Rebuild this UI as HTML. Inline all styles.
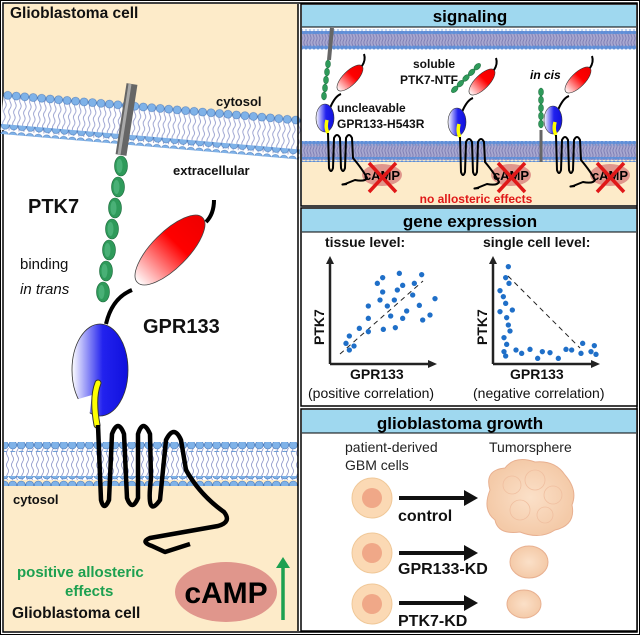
<!DOCTYPE html>
<html><head><meta charset="utf-8"><style>
html,body{margin:0;padding:0;background:#fff}
svg{display:block;font-family:"Liberation Sans",sans-serif}
</style></head><body>
<svg width="640" height="635" viewBox="0 0 640 635" xmlns="http://www.w3.org/2000/svg">
<defs>
<pattern id="tails" width="5" height="36" patternUnits="userSpaceOnUse">
<path d="M2.5,0 q2,3 0,6 q-2,3 0,6 q2,3 0,6 q-2,3 0,6 q2,3 0,6 q-2,3 0,6" fill="none" stroke="#8a93c8" stroke-width="0.8"/>
</pattern>
<pattern id="heads" width="8.5" height="10" patternUnits="userSpaceOnUse">
<circle cx="4.25" cy="5" r="4" fill="#7fb2e8" stroke="#4a78b8" stroke-width="0.6"/>
</pattern>
<pattern id="stails" width="3" height="18" patternUnits="userSpaceOnUse">
<path d="M1.5,0 q1.2,2 0,4.5 q-1.2,2 0,4.5 q1.2,2 0,4.5 q-1.2,2 0,4.5" fill="none" stroke="#7878b0" stroke-width="0.8"/>
</pattern>
<pattern id="sheads" width="4" height="5" patternUnits="userSpaceOnUse">
<circle cx="2" cy="2.5" r="2" fill="#5f8fd8"/>
</pattern>
<linearGradient id="red" x1="0" y1="0" x2="1" y2="0"><stop offset="0" stop-color="#fff"/><stop offset="0.6" stop-color="#f00"/><stop offset="1" stop-color="#e00"/></linearGradient>
<linearGradient id="blue" x1="0" y1="0" x2="1" y2="0"><stop offset="0" stop-color="#fff"/><stop offset="0.55" stop-color="#2222ee"/><stop offset="1" stop-color="#1010dd"/></linearGradient>
<radialGradient id="tum" cx="0.5" cy="0.5" r="0.5"><stop offset="0" stop-color="#fbe0c8"/><stop offset="1" stop-color="#f4caa8"/></radialGradient>
<g id="mini">
<path d="M5,-10 Q10,-22 16,-24" fill="none" stroke="#000" stroke-width="2"/>
<ellipse cx="0" cy="0" rx="9" ry="14" fill="url(#blue)" stroke="#333" stroke-width="0.6"/>
<path d="M2,2 q-2,8 1,13" stroke="#ff0" stroke-width="3.5" fill="none"/>
<ellipse cx="0" cy="0" rx="17" ry="7" transform="translate(25,-40) rotate(-45)" fill="url(#red)" stroke="#333" stroke-width="0.6"/>
<path d="M37,-52 q4,-6 2,-12" fill="none" stroke="#000" stroke-width="2"/>
<path d="M3,15 L4,50 Q6,56 8,50 L9,20 Q12,14 15,20 L16,50 Q18,56 20,50 L21,20 Q24,14 27,20 L28,40 Q38,52 42,60 Q40,64 30,62 L20,66 Q14,67 22,66" fill="none" stroke="#000" stroke-width="2"/>
</g>
<g id="bead"><ellipse rx="6.5" ry="10" fill="#2e9a5a" stroke="#1d6a3c" stroke-width="0.6"/><ellipse rx="3" ry="7" cx="-1.5" fill="#5cc088" opacity="0.6"/></g>
<g id="sbead"><ellipse rx="2.5" ry="4" fill="#2e9a5a" stroke="#1d6a3c" stroke-width="0.5"/></g>
</defs>

<rect x="0.5" y="0.5" width="639" height="634" fill="#fff" stroke="#000" stroke-width="1"/>
<rect x="3" y="3" width="634" height="629" fill="none" stroke="#000" stroke-width="1.5"/>

<!-- LEFT PANEL -->
<rect x="4" y="4" width="294" height="627" fill="#fdebc9"/>
<path d="M4,100 L298,125 L298,480 L4,480 Z" fill="#fff"/>
<rect x="4" y="466" width="294" height="165" fill="#fdebc9"/>
<g transform="translate(4,90) rotate(4.9)">
<rect x="0" y="4" width="300" height="36" fill="#fff"/>
<rect x="0" y="4" width="300" height="36" fill="url(#tails)"/>
<rect x="0" y="0" width="300" height="10" fill="url(#heads)"/>
<rect x="0" y="34" width="300" height="10" fill="url(#heads)"/>
</g>
<rect x="4" y="448" width="294" height="32" fill="#fff"/>
<rect x="4" y="448" width="294" height="32" fill="url(#tails)"/>
<rect x="4" y="442" width="294" height="10" fill="url(#heads)"/>
<rect x="4" y="476" width="294" height="10" fill="url(#heads)"/>
<line x1="298" y1="4" x2="298" y2="631" stroke="#000" stroke-width="1.5"/>

<line x1="132" y1="84" x2="121" y2="155" stroke="#666" stroke-width="11"/>
<line x1="130" y1="84" x2="119" y2="155" stroke="#aaa" stroke-width="3"/>
<use href="#bead" x="121" y="166"/><use href="#bead" x="118" y="187"/><use href="#bead" x="115" y="208"/>
<use href="#bead" x="112" y="229"/><use href="#bead" x="109" y="250"/><use href="#bead" x="106" y="271"/><use href="#bead" x="103" y="292"/>
<path d="M106,324 Q112,298 132,290" fill="none" stroke="#000" stroke-width="4"/>
<ellipse cx="0" cy="0" rx="46" ry="18" transform="translate(170,250) rotate(-45)" fill="url(#red)" stroke="#444" stroke-width="0.8"/>
<path d="M206,222 Q214,214 214,200" fill="none" stroke="#000" stroke-width="4"/>
<ellipse cx="100" cy="370" rx="28" ry="46" fill="url(#blue)" stroke="#333" stroke-width="0.8"/>
<path d="M75,400 Q78,420 88,426 L92,395 Z" fill="#fff"/>
<path d="M98,383 q-6,15 -1,42" stroke="#333" stroke-width="7" fill="none" stroke-linecap="round"/>
<path d="M98,383 q-6,15 -1,42" stroke="#ff0" stroke-width="5" fill="none" stroke-linecap="round"/>
<path d="M98,425 L101,500 Q104,512 109,500 L112,434 Q118,418 124,434 L127,498 Q132,512 138,498 L138,434 Q143,418 150,434 L151,478 Q146,520 160,500 L166,440 Q174,424 181,440 L186,470 Q200,495 224,512 Q232,522 218,526 L150,538 Q140,542 152,546 L165,552 L190,544" fill="none" stroke="#000" stroke-width="4.5" stroke-linejoin="round"/>

<g font-weight="bold" fill="#111">
<text x="10" y="18" font-size="15.5">Glioblastoma cell</text>
<text x="216" y="106" font-size="13">cytosol</text>
<text x="173" y="175" font-size="13">extracellular</text>
<text x="28" y="213" font-size="20">PTK7</text>
<text x="143" y="333" font-size="20">GPR133</text>
<text x="13" y="504" font-size="13">cytosol</text>
<text x="12" y="618" font-size="15.5">Glioblastoma cell</text>
</g>
<text x="20" y="269" font-size="15" fill="#111">binding</text>
<text x="20" y="294" font-size="15" font-style="italic" fill="#111">in trans</text>
<g font-weight="bold" fill="#1da050" font-size="15">
<text x="17" y="577">positive allosteric</text>
<text x="65" y="596">effects</text>
</g>
<ellipse cx="226" cy="592" rx="51" ry="30" fill="#e0968c"/>
<text x="226" y="603" font-size="30" font-weight="bold" text-anchor="middle">cAMP</text>
<line x1="283" y1="620" x2="283" y2="567" stroke="#1da050" stroke-width="3.5"/>
<path d="M276,568 L283,557 L290,568 Z" fill="#1da050"/>

<!-- SIGNALING -->
<rect x="301" y="4" width="336" height="202" fill="#fff" stroke="#000" stroke-width="1.5"/>
<rect x="302" y="160" width="334" height="45" fill="#fdebc9"/>
<rect x="302" y="5" width="334" height="22" fill="#9fd8ef"/>
<line x1="302" y1="27" x2="636" y2="27" stroke="#000"/>
<text x="470" y="22" font-size="17" font-weight="bold" text-anchor="middle">signaling</text>
<g>
<rect x="302" y="31" width="334" height="17" fill="#a8a8d0"/>
<rect x="302" y="31" width="334" height="17" fill="url(#stails)"/>
<rect x="302" y="29" width="334" height="5" fill="url(#sheads)"/>
<rect x="302" y="45" width="334" height="5" fill="url(#sheads)"/>
<rect x="302" y="143" width="334" height="17" fill="#a8a8d0"/>
<rect x="302" y="143" width="334" height="17" fill="url(#stails)"/>
<rect x="302" y="141" width="334" height="5" fill="url(#sheads)"/>
<rect x="302" y="157" width="334" height="5" fill="url(#sheads)"/>
</g>
<g font-weight="bold" font-size="13" text-anchor="middle">
<ellipse cx="382" cy="175" rx="20" ry="11" fill="#e0968c"/><text x="382" y="180">cAMP</text>
<ellipse cx="511" cy="175" rx="20" ry="11" fill="#e0968c"/><text x="511" y="180">cAMP</text>
<ellipse cx="610" cy="175" rx="20" ry="11" fill="#e0968c"/><text x="610" y="180">cAMP</text>
</g>
<g stroke="#e01818" stroke-width="3.5">
<path d="M369,163 L396,192 M396,163 L369,192"/>
<path d="M498,163 L525,192 M525,163 L498,192"/>
<path d="M597,163 L624,192 M624,163 L597,192"/>
</g>
<line x1="332" y1="28" x2="329" y2="60" stroke="#666" stroke-width="4"/>
<use href="#sbead" x="328" y="64"/><use href="#sbead" x="327" y="72"/><use href="#sbead" x="326" y="80"/><use href="#sbead" x="325" y="88"/><use href="#sbead" x="324" y="96"/>
<use href="#mini" x="325" y="118"/>
<g transform="translate(466,78) rotate(45)"><use href="#sbead" x="0" y="-16"/><use href="#sbead" x="0" y="-8"/><use href="#sbead" x="0" y="0"/><use href="#sbead" x="0" y="8"/><use href="#sbead" x="0" y="16"/></g>
<use href="#mini" x="457" y="122"/>
<line x1="541" y1="130" x2="541" y2="162" stroke="#666" stroke-width="3"/>
<use href="#sbead" x="541" y="92"/><use href="#sbead" x="541" y="100"/><use href="#sbead" x="541" y="108"/><use href="#sbead" x="541" y="116"/><use href="#sbead" x="541" y="124"/>
<use href="#mini" x="553" y="120"/>
<g font-weight="bold" font-size="12" fill="#111">
<text x="413" y="68">soluble</text>
<text x="400" y="84">PTK7-NTF</text>
<text x="337" y="112">uncleavable</text>
<text x="337" y="128">GPR133-H543R</text>
</g>
<text x="530" y="79" font-size="12" font-weight="bold" font-style="italic">in cis</text>
<text x="476" y="203" font-size="12" font-weight="bold" fill="#e01818" text-anchor="middle">no allosteric effects</text>

<!-- GENE EXPRESSION -->
<rect x="301" y="208" width="336" height="198" fill="#fff" stroke="#000" stroke-width="1.5"/>
<rect x="302" y="209" width="334" height="23" fill="#9fd8ef"/>
<line x1="302" y1="232" x2="636" y2="232" stroke="#000"/>
<text x="470" y="227" font-size="17" font-weight="bold" text-anchor="middle">gene expression</text>
<g font-weight="bold" font-size="14" fill="#111">
<text x="325" y="247">tissue level:</text>
<text x="483" y="247">single cell level:</text>
<text x="350" y="379">GPR133</text>
<text x="510" y="379">GPR133</text>
<text x="324" y="345" transform="rotate(-90 324 345)">PTK7</text>
<text x="487" y="345" transform="rotate(-90 487 345)">PTK7</text>
</g>
<g font-size="14" fill="#111">
<text x="308" y="398">(positive correlation)</text>
<text x="473" y="398">(negative correlation)</text>
</g>
<g stroke="#222" stroke-width="2.5" fill="none">
<path d="M330,364 L330,262 M330,364 L430,364"/>
<path d="M493,364 L493,262 M493,364 L593,364"/>
</g>
<path d="M326,264 L330,256 L334,264 Z M428,360 L437,364 L428,368 Z M489,264 L493,256 L497,264 Z M591,360 L600,364 L591,368 Z" fill="#222"/>
<line x1="340" y1="354" x2="423" y2="281" stroke="#222" stroke-dasharray="5,4" stroke-width="1"/>
<line x1="508" y1="276" x2="580" y2="348" stroke="#222" stroke-dasharray="5,4" stroke-width="1"/>
<g fill="#1f6fc8" transform="translate(300,200) scale(0.33333)">
<circle cx="138" cy="430" r="8"/><circle cx="148" cy="408" r="8"/><circle cx="148" cy="450" r="8"/><circle cx="162" cy="438" r="8"/><circle cx="178" cy="385" r="8"/><circle cx="205" cy="318" r="8"/><circle cx="205" cy="355" r="8"/><circle cx="205" cy="395" r="8"/><circle cx="232" cy="250" r="8"/><circle cx="248" cy="233" r="8"/><circle cx="248" cy="276" r="8"/><circle cx="240" cy="300" r="8"/><circle cx="250" cy="388" r="8"/><circle cx="262" cy="318" r="8"/><circle cx="272" cy="348" r="8"/><circle cx="283" cy="300" r="8"/><circle cx="286" cy="383" r="8"/><circle cx="292" cy="270" r="8"/><circle cx="298" cy="220" r="8"/><circle cx="308" cy="256" r="8"/><circle cx="308" cy="355" r="8"/><circle cx="320" cy="333" r="8"/><circle cx="338" cy="285" r="8"/><circle cx="343" cy="250" r="8"/><circle cx="358" cy="316" r="8"/><circle cx="365" cy="224" r="8"/><circle cx="368" cy="360" r="8"/><circle cx="390" cy="345" r="8"/><circle cx="405" cy="296" r="8"/>
<circle cx="625" cy="200" r="8"/><circle cx="617" cy="233" r="8"/><circle cx="627" cy="250" r="8"/><circle cx="600" cy="272" r="8"/><circle cx="610" cy="290" r="8"/><circle cx="617" cy="310" r="8"/><circle cx="600" cy="335" r="8"/><circle cx="637" cy="330" r="8"/><circle cx="620" cy="353" r="8"/><circle cx="625" cy="375" r="8"/><circle cx="630" cy="393" r="8"/><circle cx="612" cy="413" r="8"/><circle cx="620" cy="433" r="8"/><circle cx="612" cy="455" r="8"/><circle cx="617" cy="468" r="8"/><circle cx="648" cy="450" r="8"/><circle cx="665" cy="460" r="8"/><circle cx="690" cy="448" r="8"/><circle cx="713" cy="475" r="8"/><circle cx="727" cy="455" r="8"/><circle cx="750" cy="458" r="8"/><circle cx="775" cy="475" r="8"/><circle cx="798" cy="448" r="8"/><circle cx="815" cy="450" r="8"/><circle cx="843" cy="460" r="8"/><circle cx="848" cy="430" r="8"/><circle cx="873" cy="455" r="8"/><circle cx="883" cy="437" r="8"/><circle cx="888" cy="463" r="8"/>
</g>

<!-- GROWTH -->
<rect x="301" y="409" width="336" height="222" fill="#fff" stroke="#000" stroke-width="1.5"/>
<rect x="302" y="410" width="334" height="23" fill="#9fd8ef"/>
<line x1="302" y1="433" x2="636" y2="433" stroke="#000"/>
<text x="460" y="429" font-size="17" font-weight="bold" text-anchor="middle">glioblastoma growth</text>
<g font-size="14" fill="#222">
<text x="345" y="452">patient-derived</text>
<text x="345" y="470">GBM cells</text>
<text x="489" y="452">Tumorsphere</text>
</g>
<g>
<circle cx="372" cy="498" r="20" fill="#fbd9b4" stroke="#f0c898"/><circle cx="372" cy="498" r="10" fill="#f0a888"/>
<circle cx="372" cy="553" r="20" fill="#fbd9b4" stroke="#f0c898"/><circle cx="372" cy="553" r="10" fill="#f0a888"/>
<circle cx="372" cy="604" r="20" fill="#fbd9b4" stroke="#f0c898"/><circle cx="372" cy="604" r="10" fill="#f0a888"/>
</g>
<g stroke="#111" stroke-width="4"><line x1="399" y1="498" x2="466" y2="498"/><line x1="399" y1="553" x2="466" y2="553"/><line x1="399" y1="603" x2="466" y2="603"/></g>
<path d="M464,490 L478,498 L464,506 Z M464,545 L478,553 L464,561 Z M464,595 L478,603 L464,611 Z" fill="#111"/>
<g font-size="16" font-weight="bold" fill="#111">
<text x="398" y="521">control</text>
<text x="398" y="574">GPR133-KD</text>
<text x="398" y="626">PTK7-KD</text>
</g>
<path d="M490,490 Q484,470 505,468 Q515,455 535,462 Q555,460 565,475 Q578,490 572,505 Q576,525 555,530 Q540,540 520,532 Q498,535 495,520 Q482,510 490,490 Z" fill="url(#tum)" stroke="#e8b090" stroke-width="1"/>
<g stroke="#f0bfa0" stroke-width="0.8" fill="none"><circle cx="512" cy="485" r="9"/><circle cx="535" cy="480" r="10"/><circle cx="553" cy="495" r="9"/><circle cx="520" cy="510" r="10"/><circle cx="545" cy="515" r="8"/></g>
<ellipse cx="529" cy="562" rx="19" ry="16" fill="url(#tum)" stroke="#e8b090"/>
<ellipse cx="524" cy="604" rx="17" ry="14" fill="url(#tum)" stroke="#e8b090"/>
</svg>
</body></html>
